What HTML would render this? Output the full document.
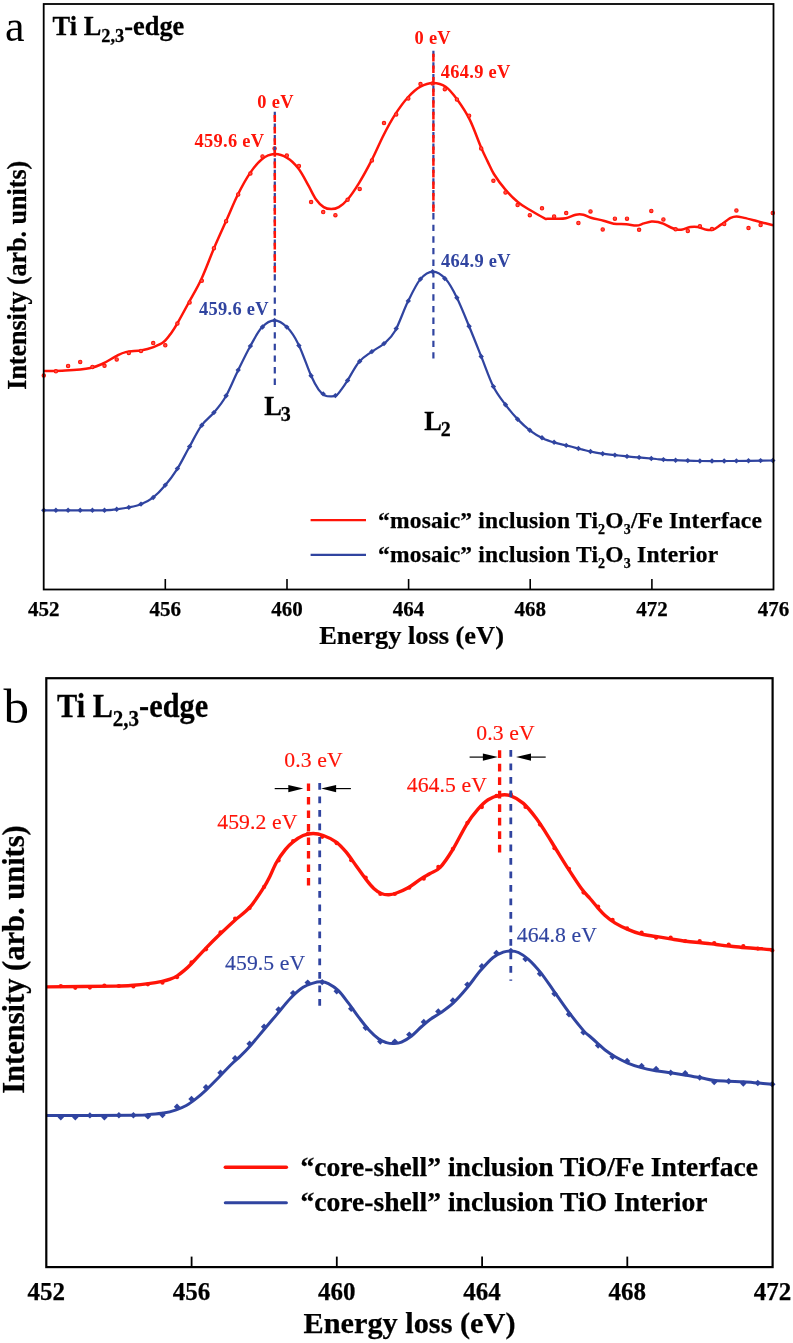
<!DOCTYPE html>
<html lang="en"><head><meta charset="utf-8"><title>Ti L2,3-edge EELS</title>
<style>html,body{margin:0;padding:0;background:#fff}svg{display:block}text{font-family:"Liberation Serif","Times New Roman",serif}.b{font-weight:bold;stroke-width:.25px;stroke:#000}.r{fill:#ff1408;stroke:#ff1408}.u{fill:#3044a0;stroke:#3044a0}.n{stroke-width:.15px}.s{stroke:none;letter-spacing:.3px}</style></head><body>
<svg width="793" height="1343" viewBox="0 0 793 1343">
<rect width="793" height="1343" fill="#fff"/>
<g id="panelA">
<path d="M43.8,371.1C47.4,371.0 57.4,371.1 65.2,370.6C73.0,370.1 84.1,369.2 90.4,368.0C96.7,366.8 98.8,365.4 103.0,363.5C107.2,361.6 111.9,358.3 115.7,356.4C119.5,354.5 121.5,353.1 125.7,352.1C129.9,351.1 136.3,351.2 140.9,350.4C145.5,349.6 149.7,348.5 153.5,347.1C157.3,345.7 160.7,344.4 163.6,342.1C166.5,339.8 168.8,336.4 171.1,333.2C173.4,330.0 174.6,328.2 177.5,323.1C180.4,318.0 184.8,309.9 188.8,302.5C192.8,295.1 197.2,288.1 201.4,279.0C205.6,269.9 209.9,257.9 214.0,248.2C218.1,238.5 222.1,229.9 226.1,221.0C230.1,212.1 233.9,202.5 237.9,194.5C241.9,186.5 246.0,179.0 250.0,173.1C254.0,167.2 257.8,162.4 261.9,159.2C266.0,156.0 270.3,154.3 274.5,154.1C278.7,153.9 283.1,155.5 287.1,157.9C291.1,160.3 294.8,163.9 298.4,168.5C302.0,173.1 305.6,180.5 308.5,185.7C311.4,190.9 313.6,195.9 316.1,199.5C318.6,203.1 321.2,205.5 323.7,207.1C326.2,208.7 328.7,209.1 331.2,209.1C333.7,209.1 336.1,208.7 338.8,207.1C341.5,205.5 344.2,203.5 347.6,199.5C351.0,195.5 355.0,189.6 359.0,183.1C363.0,176.6 367.5,168.3 371.6,160.4C375.7,152.5 379.5,143.2 383.4,135.5C387.3,127.8 391.1,120.7 395.2,114.4C399.3,108.1 403.6,102.1 407.8,97.5C412.0,92.9 416.2,89.1 420.4,86.7C424.6,84.3 428.9,82.9 433.1,82.9C437.3,82.9 441.7,84.0 445.7,86.7C449.7,89.4 453.0,93.8 457.0,99.3C461.0,104.8 465.6,111.4 469.6,119.4C473.6,127.4 478.0,140.2 481.0,147.2C484.0,154.2 485.5,156.9 487.6,161.4C489.8,165.9 491.0,169.3 493.9,174.0C496.8,178.7 501.2,184.7 505.2,189.4C509.2,194.1 513.6,198.5 517.8,202.0C522.0,205.5 525.9,207.6 530.4,210.3C534.9,213.0 541.8,217.0 544.6,218.4C547.4,219.8 545.1,218.6 547.0,218.7C548.9,218.8 552.6,218.8 555.7,218.7C558.8,218.6 562.4,218.9 565.8,218.2C569.1,217.5 572.9,215.3 575.8,214.7C578.7,214.1 580.9,214.2 583.4,214.7C585.9,215.2 587.6,216.7 591.0,217.7C594.4,218.7 599.8,219.7 603.6,220.7C607.4,221.7 609.9,223.1 613.7,223.7C617.5,224.3 622.5,223.9 626.3,224.2C630.1,224.5 633.5,225.7 636.4,225.6C639.3,225.5 641.4,224.1 643.9,223.4C646.4,222.7 649.1,221.7 651.5,221.5C653.9,221.3 656.0,221.6 658.0,222.0C660.0,222.4 661.1,222.8 663.2,223.7C665.4,224.6 668.6,226.5 670.9,227.5C673.1,228.5 674.8,229.2 676.7,229.5C678.6,229.8 680.1,229.9 682.4,229.5C684.6,229.1 687.6,227.4 690.2,227.0C692.8,226.6 695.2,226.5 697.9,227.0C700.6,227.5 704.0,229.4 706.6,229.8C709.2,230.2 710.9,230.4 713.3,229.5C715.7,228.6 718.1,226.5 721.0,224.6C723.9,222.7 728.1,219.2 730.7,217.9C733.3,216.6 734.2,216.5 736.5,216.5C738.8,216.5 741.0,217.2 744.2,217.9C747.4,218.6 752.3,219.9 755.8,220.8C759.3,221.7 762.5,222.6 765.4,223.3C768.3,224.0 771.8,224.9 773.1,225.2" fill="none" stroke="#ff1408" stroke-width="2.5" stroke-linejoin="round"/>
<path d="M43.8,510.3C53.7,510.3 91.0,510.5 103.0,510.3C115.0,510.1 111.5,509.8 115.7,509.3C119.9,508.8 124.1,508.4 128.3,507.5C132.5,506.6 136.8,505.8 140.9,504.2C145.0,502.6 148.7,501.0 152.7,497.9C156.7,494.8 160.8,490.6 164.8,485.8C168.9,481.1 173.0,475.7 177.0,469.4C181.0,463.1 184.7,455.3 188.8,448.0C192.9,440.7 197.2,431.5 201.4,425.6C205.6,419.7 210.0,417.3 214.0,412.5C218.0,407.7 221.6,403.8 225.6,396.8C229.6,389.8 233.8,379.1 237.9,370.7C242.0,362.3 246.0,353.9 250.0,346.7C254.0,339.5 257.8,331.7 261.9,327.3C266.0,322.9 270.3,320.3 274.5,320.3C278.7,320.3 283.1,323.3 287.1,327.3C291.1,331.3 294.4,336.1 298.4,344.2C302.4,352.3 307.7,368.2 311.1,375.8C314.5,383.4 316.3,386.3 318.6,389.6C320.9,392.9 322.8,394.3 324.9,395.4C327.0,396.5 329.3,396.4 331.2,396.4C333.1,396.4 334.6,396.5 336.3,395.4C338.0,394.3 339.4,392.1 341.3,389.6C343.2,387.1 344.7,384.9 347.6,380.3C350.6,375.7 355.0,366.6 359.0,361.9C363.0,357.1 367.4,354.9 371.6,351.8C375.8,348.7 380.3,347.0 384.2,343.5C388.1,340.0 391.3,337.8 395.2,330.8C399.1,323.9 403.6,310.4 407.8,301.8C412.0,293.2 416.2,284.2 420.4,279.1C424.6,274.1 428.9,271.5 433.1,271.5C437.3,271.5 441.7,274.7 445.7,279.1C449.7,283.5 453.0,289.9 457.0,298.0C461.0,306.1 465.5,317.6 469.6,327.5C473.7,337.4 477.8,347.9 481.7,357.7C485.6,367.5 489.4,378.7 493.3,386.5C497.2,394.3 501.1,398.8 505.2,404.3C509.3,409.8 513.6,415.0 517.8,419.4C522.0,423.8 526.2,427.6 530.4,430.8C534.6,434.0 538.9,436.4 543.1,438.4C547.3,440.4 551.5,441.6 555.7,442.9C559.9,444.1 564.1,444.8 568.3,445.9C572.5,446.9 576.7,448.1 580.9,449.2C585.1,450.2 589.3,451.4 593.5,452.2C597.7,453.0 601.9,453.6 606.1,454.2C610.3,454.8 614.5,455.1 618.7,455.5C622.9,455.9 627.1,456.4 631.3,456.8C635.5,457.2 639.7,457.4 643.9,457.8C648.1,458.2 652.3,458.6 656.5,459.0C660.7,459.4 665.3,459.9 669.2,460.1C673.1,460.3 674.9,460.2 680.0,460.3C685.1,460.4 691.7,460.9 700.0,461.0C708.3,461.1 717.8,461.1 730.0,461.0C742.2,460.9 765.8,460.6 773.0,460.5" fill="none" stroke="#3044a0" stroke-width="2.25" stroke-linejoin="round"/>
<g fill="#ff5248" stroke="#ff1408" stroke-width="1.1"><circle cx="43.8" cy="375.6" r="1.7"/><circle cx="55.9" cy="371.3" r="1.7"/><circle cx="68.1" cy="366.0" r="1.7"/><circle cx="80.2" cy="362.0" r="1.7"/><circle cx="92.4" cy="367.0" r="1.7"/><circle cx="104.5" cy="365.8" r="1.7"/><circle cx="116.7" cy="359.5" r="1.7"/><circle cx="128.8" cy="352.9" r="1.7"/><circle cx="141.0" cy="350.9" r="1.7"/><circle cx="153.2" cy="343.1" r="1.7"/><circle cx="165.3" cy="345.3" r="1.7"/><circle cx="177.4" cy="323.6" r="1.7"/><circle cx="189.6" cy="302.5" r="1.7"/><circle cx="201.8" cy="280.8" r="1.7"/><circle cx="213.9" cy="248.2" r="1.7"/><circle cx="226.1" cy="221.2" r="1.7"/><circle cx="238.2" cy="194.5" r="1.7"/><circle cx="250.4" cy="173.6" r="1.7"/><circle cx="262.5" cy="156.4" r="1.7"/><circle cx="274.6" cy="148.6" r="1.7"/><circle cx="286.8" cy="155.6" r="1.7"/><circle cx="298.9" cy="166.0" r="1.7"/><circle cx="311.1" cy="202.1" r="1.7"/><circle cx="323.2" cy="212.1" r="1.7"/><circle cx="335.4" cy="215.2" r="1.7"/><circle cx="347.6" cy="199.8" r="1.7"/><circle cx="359.7" cy="188.9" r="1.7"/><circle cx="371.9" cy="160.4" r="1.7"/><circle cx="384.0" cy="123.1" r="1.7"/><circle cx="396.2" cy="114.4" r="1.7"/><circle cx="408.3" cy="98.5" r="1.7"/><circle cx="420.5" cy="84.1" r="1.7"/><circle cx="432.6" cy="83.4" r="1.7"/><circle cx="444.8" cy="89.2" r="1.7"/><circle cx="456.9" cy="99.5" r="1.7"/><circle cx="469.1" cy="115.7" r="1.7"/><circle cx="481.2" cy="148.4" r="1.7"/><circle cx="493.4" cy="180.8" r="1.7"/><circle cx="505.5" cy="192.5" r="1.7"/><circle cx="517.6" cy="205.1" r="1.7"/><circle cx="529.8" cy="215.2" r="1.7"/><circle cx="542.0" cy="208.3" r="1.7"/><circle cx="554.1" cy="216.4" r="1.7"/><circle cx="566.2" cy="213.1" r="1.7"/><circle cx="578.4" cy="223.0" r="1.7"/><circle cx="590.5" cy="211.4" r="1.7"/><circle cx="602.7" cy="229.5" r="1.7"/><circle cx="614.9" cy="218.7" r="1.7"/><circle cx="627.0" cy="218.7" r="1.7"/><circle cx="639.1" cy="229.8" r="1.7"/><circle cx="651.3" cy="210.9" r="1.7"/><circle cx="663.4" cy="219.4" r="1.7"/><circle cx="675.6" cy="229.3" r="1.7"/><circle cx="687.8" cy="231.0" r="1.7"/><circle cx="699.9" cy="226.2" r="1.7"/><circle cx="712.0" cy="229.1" r="1.7"/><circle cx="724.2" cy="224.1" r="1.7"/><circle cx="736.4" cy="210.6" r="1.7"/><circle cx="748.5" cy="228.1" r="1.7"/><circle cx="760.6" cy="225.0" r="1.7"/><circle cx="772.8" cy="213.1" r="1.7"/></g>
<g fill="#3044a0"><path d="M43.8,507.6l2.7,2.7l-2.7,2.7l-2.7,-2.7z"/><path d="M55.9,507.6l2.7,2.7l-2.7,2.7l-2.7,-2.7z"/><path d="M68.1,507.6l2.7,2.7l-2.7,2.7l-2.7,-2.7z"/><path d="M80.2,507.6l2.7,2.7l-2.7,2.7l-2.7,-2.7z"/><path d="M92.4,507.6l2.7,2.7l-2.7,2.7l-2.7,-2.7z"/><path d="M104.5,507.5l2.7,2.7l-2.7,2.7l-2.7,-2.7z"/><path d="M116.7,506.5l2.7,2.7l-2.7,2.7l-2.7,-2.7z"/><path d="M128.8,504.7l2.7,2.7l-2.7,2.7l-2.7,-2.7z"/><path d="M141.0,501.4l2.7,2.7l-2.7,2.7l-2.7,-2.7z"/><path d="M153.2,494.8l2.7,2.7l-2.7,2.7l-2.7,-2.7z"/><path d="M165.3,482.4l2.7,2.7l-2.7,2.7l-2.7,-2.7z"/><path d="M177.4,465.9l2.7,2.7l-2.7,2.7l-2.7,-2.7z"/><path d="M189.6,443.9l2.7,2.7l-2.7,2.7l-2.7,-2.7z"/><path d="M201.8,422.5l2.7,2.7l-2.7,2.7l-2.7,-2.7z"/><path d="M213.9,409.9l2.7,2.7l-2.7,2.7l-2.7,-2.7z"/><path d="M226.1,393.1l2.7,2.7l-2.7,2.7l-2.7,-2.7z"/><path d="M238.2,367.4l2.7,2.7l-2.7,2.7l-2.7,-2.7z"/><path d="M250.4,343.4l2.7,2.7l-2.7,2.7l-2.7,-2.7z"/><path d="M262.5,324.3l2.7,2.7l-2.7,2.7l-2.7,-2.7z"/><path d="M274.6,317.7l2.7,2.7l-2.7,2.7l-2.7,-2.7z"/><path d="M286.8,324.4l2.7,2.7l-2.7,2.7l-2.7,-2.7z"/><path d="M298.9,342.9l2.7,2.7l-2.7,2.7l-2.7,-2.7z"/><path d="M311.1,373.1l2.7,2.7l-2.7,2.7l-2.7,-2.7z"/><path d="M323.2,391.2l2.7,2.7l-2.7,2.7l-2.7,-2.7z"/><path d="M335.4,392.9l2.7,2.7l-2.7,2.7l-2.7,-2.7z"/><path d="M347.6,377.7l2.7,2.7l-2.7,2.7l-2.7,-2.7z"/><path d="M359.7,358.6l2.7,2.7l-2.7,2.7l-2.7,-2.7z"/><path d="M371.9,348.9l2.7,2.7l-2.7,2.7l-2.7,-2.7z"/><path d="M384.0,340.9l2.7,2.7l-2.7,2.7l-2.7,-2.7z"/><path d="M396.2,325.9l2.7,2.7l-2.7,2.7l-2.7,-2.7z"/><path d="M408.3,298.2l2.7,2.7l-2.7,2.7l-2.7,-2.7z"/><path d="M420.5,276.4l2.7,2.7l-2.7,2.7l-2.7,-2.7z"/><path d="M432.6,269.1l2.7,2.7l-2.7,2.7l-2.7,-2.7z"/><path d="M444.8,275.8l2.7,2.7l-2.7,2.7l-2.7,-2.7z"/><path d="M456.9,295.1l2.7,2.7l-2.7,2.7l-2.7,-2.7z"/><path d="M469.1,323.5l2.7,2.7l-2.7,2.7l-2.7,-2.7z"/><path d="M481.2,353.8l2.7,2.7l-2.7,2.7l-2.7,-2.7z"/><path d="M493.4,383.9l2.7,2.7l-2.7,2.7l-2.7,-2.7z"/><path d="M505.5,402.0l2.7,2.7l-2.7,2.7l-2.7,-2.7z"/><path d="M517.6,416.5l2.7,2.7l-2.7,2.7l-2.7,-2.7z"/><path d="M529.8,427.6l2.7,2.7l-2.7,2.7l-2.7,-2.7z"/><path d="M542.0,435.0l2.7,2.7l-2.7,2.7l-2.7,-2.7z"/><path d="M554.1,439.6l2.7,2.7l-2.7,2.7l-2.7,-2.7z"/><path d="M566.2,442.7l2.7,2.7l-2.7,2.7l-2.7,-2.7z"/><path d="M578.4,445.8l2.7,2.7l-2.7,2.7l-2.7,-2.7z"/><path d="M590.5,448.8l2.7,2.7l-2.7,2.7l-2.7,-2.7z"/><path d="M602.7,451.0l2.7,2.7l-2.7,2.7l-2.7,-2.7z"/><path d="M614.9,452.4l2.7,2.7l-2.7,2.7l-2.7,-2.7z"/><path d="M627.0,453.7l2.7,2.7l-2.7,2.7l-2.7,-2.7z"/><path d="M639.1,454.7l2.7,2.7l-2.7,2.7l-2.7,-2.7z"/><path d="M651.3,455.8l2.7,2.7l-2.7,2.7l-2.7,-2.7z"/><path d="M663.4,456.9l2.7,2.7l-2.7,2.7l-2.7,-2.7z"/><path d="M675.6,457.5l2.7,2.7l-2.7,2.7l-2.7,-2.7z"/><path d="M687.8,457.9l2.7,2.7l-2.7,2.7l-2.7,-2.7z"/><path d="M699.9,458.3l2.7,2.7l-2.7,2.7l-2.7,-2.7z"/><path d="M712.0,458.3l2.7,2.7l-2.7,2.7l-2.7,-2.7z"/><path d="M724.2,458.3l2.7,2.7l-2.7,2.7l-2.7,-2.7z"/><path d="M736.4,458.2l2.7,2.7l-2.7,2.7l-2.7,-2.7z"/><path d="M748.5,458.1l2.7,2.7l-2.7,2.7l-2.7,-2.7z"/><path d="M760.6,457.9l2.7,2.7l-2.7,2.7l-2.7,-2.7z"/><path d="M772.8,457.8l2.7,2.7l-2.7,2.7l-2.7,-2.7z"/></g>
<line x1="274.8" y1="111.8" x2="274.8" y2="385" stroke="#3044a0" stroke-width="2.2" stroke-dasharray="6.4 5.2"/>
<line x1="274.8" y1="115.1" x2="274.8" y2="272.6" stroke="#ff1408" stroke-width="2.5" stroke-dasharray="6.8 4.8"/>
<line x1="433.4" y1="50.7" x2="433.4" y2="358.5" stroke="#3044a0" stroke-width="2.2" stroke-dasharray="6.4 5.2"/>
<line x1="433.4" y1="53.8" x2="433.4" y2="211.7" stroke="#ff1408" stroke-width="2.5" stroke-dasharray="7.6 4"/>
<rect x="43.7" y="4.0" width="729.8" height="585.5" fill="none" stroke="#000" stroke-width="1.8"/>
<line x1="165.3" y1="589.5" x2="165.3" y2="579" stroke="#000" stroke-width="1.6"/>
<line x1="287.0" y1="589.5" x2="287.0" y2="579" stroke="#000" stroke-width="1.6"/>
<line x1="408.6" y1="589.5" x2="408.6" y2="579" stroke="#000" stroke-width="1.6"/>
<line x1="530.2" y1="589.5" x2="530.2" y2="579" stroke="#000" stroke-width="1.6"/>
<line x1="651.9" y1="589.5" x2="651.9" y2="579" stroke="#000" stroke-width="1.6"/>
<text class="b" x="43.7" y="616" font-size="21" text-anchor="middle">452</text>
<text class="b" x="165.3" y="616" font-size="21" text-anchor="middle">456</text>
<text class="b" x="287.0" y="616" font-size="21" text-anchor="middle">460</text>
<text class="b" x="408.6" y="616" font-size="21" text-anchor="middle">464</text>
<text class="b" x="530.2" y="616" font-size="21" text-anchor="middle">468</text>
<text class="b" x="651.9" y="616" font-size="21" text-anchor="middle">472</text>
<text class="b" x="773.5" y="616" font-size="21" text-anchor="middle">476</text>
<text class="b" transform="translate(411.6,644.2) scale(1,0.96)" font-size="26.4" text-anchor="middle">Energy loss (eV)</text>
<text class="b" transform="translate(26.3,275.3) rotate(-90) scale(1,1.04)" font-size="26" text-anchor="middle">Intensity (arb. units)</text>
<text x="5" y="41.3" font-size="44">a</text>
<text class="b" transform="translate(52.6,34.7) scale(1,1.07)" font-size="26.4">Ti L<tspan font-size="18.4" dy="7.2">2,3</tspan><tspan dy="-7.2">-edge</tspan></text>
<g font-size="18.4"><text class="b r s" x="257.3" y="107.7">0 eV</text><text class="b r s" x="194.6" y="147">459.6 eV</text><text class="b r s" x="414.5" y="43.5">0 eV</text><text class="b r s" x="440.8" y="77.8">464.9 eV</text><text class="b u s" x="199" y="314.8">459.6 eV</text><text class="b u s" x="441" y="266.5">464.9 eV</text></g>
<text class="b" transform="translate(264.2,414.6) scale(1,1.05)" font-size="26.5">L<tspan font-size="20" dx="-1" dy="6.2">3</tspan></text>
<text class="b" transform="translate(424.2,429.7) scale(1,1.05)" font-size="26.5">L<tspan font-size="20" dx="-1" dy="6.4">2</tspan></text>
<line x1="310.6" y1="520.2" x2="366" y2="520.2" stroke="#ff1408" stroke-width="2.2"/>
<line x1="310.6" y1="554.8" x2="366" y2="554.8" stroke="#3044a0" stroke-width="2.2"/>
<text class="b" x="378" y="527.8" font-size="23.5" letter-spacing=".2">“mosaic” inclusion Ti<tspan font-size="14" dy="6.5">2</tspan><tspan dy="-6.5">O</tspan><tspan font-size="14" dy="6.5">3</tspan><tspan dy="-6.5">/Fe Interface</tspan></text>
<text class="b" x="378" y="561.8" font-size="23.5" letter-spacing=".2">“mosaic” inclusion Ti<tspan font-size="14" dy="6.5">2</tspan><tspan dy="-6.5">O</tspan><tspan font-size="14" dy="6.5">3</tspan><tspan dy="-6.5"> Interior</tspan></text>
</g>
<g id="panelB">
<path d="M46.3,986.9C57.9,986.8 101.2,986.4 115.7,986.1C130.2,985.8 127.9,985.7 133.3,985.3C138.8,984.9 143.6,984.3 148.4,983.6C153.2,982.9 158.5,982.0 162.1,981.3C165.7,980.6 167.7,980.1 170.2,979.2C172.7,978.3 174.8,977.4 177.2,975.9C179.5,974.4 181.9,972.4 184.3,970.4C186.7,968.4 187.9,967.3 191.4,963.7C194.9,960.1 200.8,953.5 205.5,948.6C210.2,943.7 214.7,939.2 219.6,934.5C224.5,929.8 229.6,924.9 234.7,920.4C239.8,915.9 245.0,912.8 249.9,907.2C254.8,901.7 260.6,892.3 264.0,887.1C267.4,881.9 268.0,880.2 270.1,876.0C272.2,871.8 274.1,866.4 276.7,862.0C279.3,857.6 282.8,852.8 285.5,849.4C288.2,846.0 290.2,844.1 293.1,841.8C296.0,839.5 299.8,836.9 303.1,835.5C306.5,834.1 309.8,833.5 313.2,833.5C316.6,833.5 319.5,834.1 323.3,835.5C327.1,836.9 332.1,839.1 335.9,841.8C339.7,844.5 342.6,847.9 346.0,851.9C349.4,855.9 352.7,861.1 356.1,865.7C359.5,870.3 363.2,875.8 366.2,879.6C369.1,883.4 371.3,886.1 373.8,888.4C376.3,890.7 378.8,892.4 381.3,893.5C383.8,894.6 386.4,894.9 388.9,894.8C391.4,894.7 393.1,894.3 396.5,893.0C399.9,891.7 404.9,889.6 409.1,887.2C413.3,884.8 418.2,880.7 421.7,878.4C425.2,876.1 427.0,875.4 430.1,873.5C433.2,871.6 436.4,871.3 440.2,867.3C444.0,863.3 448.4,856.7 452.8,849.5C457.2,842.3 462.5,831.0 466.7,824.3C470.9,817.6 474.4,813.3 478.0,809.2C481.6,805.1 484.5,802.1 488.1,799.8C491.7,797.5 495.6,796.0 499.4,795.3C503.2,794.6 506.8,794.4 510.8,795.8C514.8,797.1 519.2,799.7 523.4,803.4C527.6,807.1 532.2,813.0 536.0,818.0C539.8,823.0 542.7,827.9 546.1,833.1C549.5,838.4 552.4,843.4 556.2,849.5C560.0,855.6 564.6,863.2 568.8,869.7C573.0,876.2 577.9,883.8 581.4,888.6C584.9,893.4 587.3,895.4 590.0,898.5C592.7,901.6 595.1,904.7 597.6,907.5C600.1,910.3 602.2,912.9 605.1,915.5C608.0,918.1 611.4,920.8 615.2,923.1C619.0,925.4 623.6,927.6 627.8,929.4C632.0,931.2 635.8,932.7 640.4,933.9C645.0,935.1 650.5,935.6 655.6,936.4C660.7,937.2 665.7,938.1 670.7,938.9C675.7,939.7 680.8,940.6 685.8,941.2C690.8,941.8 696.0,942.2 701.0,942.7C706.0,943.2 711.1,943.9 716.1,944.5C721.1,945.1 726.2,945.8 731.2,946.3C736.2,946.8 741.4,947.4 746.4,947.8C751.4,948.2 757.2,948.5 761.5,948.8C765.8,949.1 770.3,949.6 772.1,949.8" fill="none" stroke="#ff1408" stroke-width="3.4" stroke-linejoin="round"/>
<path d="M46.3,1115.6C60.8,1115.5 116.3,1115.5 133.3,1115.3C150.3,1115.1 143.4,1115.0 148.4,1114.6C153.4,1114.2 159.0,1113.9 163.6,1113.1C168.2,1112.3 172.4,1111.1 176.2,1109.8C180.0,1108.5 182.9,1107.4 186.3,1105.5C189.7,1103.6 193.0,1101.1 196.4,1098.4C199.8,1095.8 202.7,1093.2 206.5,1089.6C210.3,1086.0 214.9,1081.3 219.1,1077.0C223.3,1072.7 228.2,1067.4 231.7,1064.0C235.2,1060.6 237.0,1059.4 240.1,1056.4C243.2,1053.4 246.4,1050.2 250.2,1046.0C254.0,1041.8 258.4,1036.2 262.8,1031.0C267.2,1025.8 272.1,1020.1 276.7,1014.6C281.3,1009.1 286.1,1002.8 290.5,998.2C294.9,993.7 299.3,989.8 303.1,987.3C306.9,984.8 310.2,984.0 313.2,983.1C316.1,982.2 318.3,981.7 320.8,981.8C323.3,981.9 325.5,982.1 328.4,983.6C331.3,985.1 335.0,987.3 338.4,990.6C341.8,993.9 345.1,998.8 348.5,1003.2C351.9,1007.6 355.2,1012.7 358.6,1017.1C362.0,1021.5 365.3,1026.0 368.7,1029.7C372.1,1033.4 375.9,1036.8 378.8,1039.0C381.8,1041.2 383.9,1041.8 386.4,1042.6C388.9,1043.4 391.4,1043.7 393.9,1043.6C396.4,1043.5 398.6,1043.4 401.5,1042.1C404.4,1040.8 408.2,1038.6 411.6,1036.0C415.0,1033.4 418.6,1029.2 421.7,1026.5C424.8,1023.8 427.0,1021.8 430.1,1019.5C433.2,1017.2 436.4,1015.7 440.2,1013.0C444.0,1010.3 448.4,1007.5 452.8,1003.4C457.2,999.3 462.1,993.8 466.7,988.3C471.3,982.8 476.1,975.7 480.5,970.6C484.9,965.5 489.3,960.6 493.1,957.5C496.9,954.4 500.2,953.3 503.2,952.2C506.1,951.1 508.3,950.9 510.8,950.9C513.3,950.9 515.5,951.1 518.4,952.5C521.3,953.9 524.6,955.9 528.4,959.3C532.2,962.7 536.9,967.9 541.1,973.1C545.3,978.4 549.1,984.3 553.7,990.8C558.3,997.3 563.8,1005.5 568.8,1012.2C573.8,1018.9 580.4,1027.0 583.9,1031.1C587.4,1035.1 587.7,1034.5 590.0,1036.5C592.3,1038.5 595.1,1041.0 597.6,1043.3C600.1,1045.5 602.2,1047.8 605.1,1050.0C608.0,1052.2 611.4,1054.6 615.2,1056.8C619.0,1059.0 623.6,1061.3 627.8,1063.1C632.0,1064.9 635.8,1066.1 640.4,1067.4C645.0,1068.7 650.5,1069.8 655.6,1070.7C660.7,1071.6 665.7,1072.0 670.7,1072.7C675.7,1073.5 680.8,1074.4 685.8,1075.2C690.8,1076.0 696.4,1077.0 701.0,1077.8C705.6,1078.6 709.0,1079.7 713.6,1080.3C718.2,1080.9 723.7,1081.0 728.7,1081.3C733.7,1081.5 738.8,1081.5 743.8,1081.8C748.8,1082.1 754.3,1082.7 759.0,1083.1C763.7,1083.5 769.9,1084.1 772.1,1084.3" fill="none" stroke="#3044a0" stroke-width="3" stroke-linejoin="round"/>
<g fill="#ff1408"><circle cx="60.8" cy="986.1" r="2.1"/><circle cx="75.3" cy="987.8" r="2.1"/><circle cx="89.9" cy="987.6" r="2.1"/><circle cx="104.4" cy="985.6" r="2.1"/><circle cx="118.9" cy="986.0" r="2.1"/><circle cx="133.4" cy="986.5" r="2.1"/><circle cx="147.9" cy="984.3" r="2.1"/><circle cx="162.5" cy="982.7" r="2.1"/><circle cx="177.0" cy="977.2" r="2.1"/><circle cx="191.5" cy="962.4" r="2.1"/><circle cx="206.0" cy="949.3" r="2.1"/><circle cx="220.5" cy="932.4" r="2.1"/><circle cx="235.1" cy="918.6" r="2.1"/><circle cx="249.6" cy="908.1" r="2.1"/><circle cx="264.1" cy="886.9" r="2.1"/><circle cx="278.6" cy="860.5" r="2.1"/><circle cx="293.1" cy="841.2" r="2.1"/><circle cx="307.7" cy="834.0" r="2.1"/><circle cx="322.2" cy="836.8" r="2.1"/><circle cx="336.7" cy="843.2" r="2.1"/><circle cx="351.2" cy="860.2" r="2.1"/><circle cx="365.7" cy="877.5" r="2.1"/><circle cx="380.3" cy="894.0" r="2.1"/><circle cx="394.8" cy="894.0" r="2.1"/><circle cx="409.3" cy="887.7" r="2.1"/><circle cx="423.8" cy="878.7" r="2.1"/><circle cx="438.3" cy="866.9" r="2.1"/><circle cx="452.9" cy="848.8" r="2.1"/><circle cx="467.4" cy="822.8" r="2.1"/><circle cx="481.9" cy="807.1" r="2.1"/><circle cx="496.4" cy="795.9" r="2.1"/><circle cx="510.9" cy="794.4" r="2.1"/><circle cx="525.5" cy="807.0" r="2.1"/><circle cx="540.0" cy="824.6" r="2.1"/><circle cx="554.5" cy="848.2" r="2.1"/><circle cx="569.0" cy="868.8" r="2.1"/><circle cx="583.5" cy="892.6" r="2.1"/><circle cx="598.1" cy="906.5" r="2.1"/><circle cx="612.6" cy="919.9" r="2.1"/><circle cx="627.1" cy="928.4" r="2.1"/><circle cx="641.6" cy="932.6" r="2.1"/><circle cx="656.1" cy="937.7" r="2.1"/><circle cx="670.7" cy="937.7" r="2.1"/><circle cx="685.2" cy="941.1" r="2.1"/><circle cx="699.7" cy="941.1" r="2.1"/><circle cx="714.2" cy="943.1" r="2.1"/><circle cx="728.7" cy="944.5" r="2.1"/><circle cx="743.3" cy="946.0" r="2.1"/><circle cx="757.8" cy="948.6" r="2.1"/><circle cx="772.3" cy="950.4" r="2.1"/></g>
<g fill="#3044a0"><path d="M60.8,1114.1l3.2,3.2l-3.2,3.2l-3.2,-3.2z"/><path d="M75.3,1114.1l3.2,3.2l-3.2,3.2l-3.2,-3.2z"/><path d="M89.9,1112.2l3.2,3.2l-3.2,3.2l-3.2,-3.2z"/><path d="M104.4,1114.0l3.2,3.2l-3.2,3.2l-3.2,-3.2z"/><path d="M118.9,1112.1l3.2,3.2l-3.2,3.2l-3.2,-3.2z"/><path d="M133.4,1112.1l3.2,3.2l-3.2,3.2l-3.2,-3.2z"/><path d="M147.9,1113.2l3.2,3.2l-3.2,3.2l-3.2,-3.2z"/><path d="M162.5,1111.8l3.2,3.2l-3.2,3.2l-3.2,-3.2z"/><path d="M177.0,1103.5l3.2,3.2l-3.2,3.2l-3.2,-3.2z"/><path d="M191.5,1095.8l3.2,3.2l-3.2,3.2l-3.2,-3.2z"/><path d="M206.0,1084.0l3.2,3.2l-3.2,3.2l-3.2,-3.2z"/><path d="M220.5,1069.5l3.2,3.2l-3.2,3.2l-3.2,-3.2z"/><path d="M235.1,1055.0l3.2,3.2l-3.2,3.2l-3.2,-3.2z"/><path d="M249.6,1040.6l3.2,3.2l-3.2,3.2l-3.2,-3.2z"/><path d="M264.1,1023.5l3.2,3.2l-3.2,3.2l-3.2,-3.2z"/><path d="M278.6,1006.3l3.2,3.2l-3.2,3.2l-3.2,-3.2z"/><path d="M293.1,989.9l3.2,3.2l-3.2,3.2l-3.2,-3.2z"/><path d="M307.7,979.4l3.2,3.2l-3.2,3.2l-3.2,-3.2z"/><path d="M322.2,978.9l3.2,3.2l-3.2,3.2l-3.2,-3.2z"/><path d="M336.7,988.0l3.2,3.2l-3.2,3.2l-3.2,-3.2z"/><path d="M351.2,1005.5l3.2,3.2l-3.2,3.2l-3.2,-3.2z"/><path d="M365.7,1024.6l3.2,3.2l-3.2,3.2l-3.2,-3.2z"/><path d="M380.3,1038.3l3.2,3.2l-3.2,3.2l-3.2,-3.2z"/><path d="M394.8,1038.4l3.2,3.2l-3.2,3.2l-3.2,-3.2z"/><path d="M409.3,1031.4l3.2,3.2l-3.2,3.2l-3.2,-3.2z"/><path d="M423.8,1018.7l3.2,3.2l-3.2,3.2l-3.2,-3.2z"/><path d="M438.3,1008.2l3.2,3.2l-3.2,3.2l-3.2,-3.2z"/><path d="M452.9,997.3l3.2,3.2l-3.2,3.2l-3.2,-3.2z"/><path d="M467.4,981.4l3.2,3.2l-3.2,3.2l-3.2,-3.2z"/><path d="M481.9,963.1l3.2,3.2l-3.2,3.2l-3.2,-3.2z"/><path d="M496.4,949.8l3.2,3.2l-3.2,3.2l-3.2,-3.2z"/><path d="M510.9,947.7l3.2,3.2l-3.2,3.2l-3.2,-3.2z"/><path d="M525.5,955.9l3.2,3.2l-3.2,3.2l-3.2,-3.2z"/><path d="M540.0,970.5l3.2,3.2l-3.2,3.2l-3.2,-3.2z"/><path d="M554.5,990.5l3.2,3.2l-3.2,3.2l-3.2,-3.2z"/><path d="M569.0,1011.1l3.2,3.2l-3.2,3.2l-3.2,-3.2z"/><path d="M583.5,1029.2l3.2,3.2l-3.2,3.2l-3.2,-3.2z"/><path d="M598.1,1042.3l3.2,3.2l-3.2,3.2l-3.2,-3.2z"/><path d="M612.6,1053.6l3.2,3.2l-3.2,3.2l-3.2,-3.2z"/><path d="M627.1,1057.8l3.2,3.2l-3.2,3.2l-3.2,-3.2z"/><path d="M641.6,1062.7l3.2,3.2l-3.2,3.2l-3.2,-3.2z"/><path d="M656.1,1065.8l3.2,3.2l-3.2,3.2l-3.2,-3.2z"/><path d="M670.7,1069.5l3.2,3.2l-3.2,3.2l-3.2,-3.2z"/><path d="M685.2,1070.1l3.2,3.2l-3.2,3.2l-3.2,-3.2z"/><path d="M699.7,1074.4l3.2,3.2l-3.2,3.2l-3.2,-3.2z"/><path d="M714.2,1078.9l3.2,3.2l-3.2,3.2l-3.2,-3.2z"/><path d="M728.7,1078.1l3.2,3.2l-3.2,3.2l-3.2,-3.2z"/><path d="M743.3,1080.4l3.2,3.2l-3.2,3.2l-3.2,-3.2z"/><path d="M757.8,1079.8l3.2,3.2l-3.2,3.2l-3.2,-3.2z"/><path d="M772.3,1081.1l3.2,3.2l-3.2,3.2l-3.2,-3.2z"/></g>
<line x1="308.5" y1="783.5" x2="308.5" y2="885.7" stroke="#ff1408" stroke-width="3.3" stroke-dasharray="7.6 5.9"/>
<line x1="319.7" y1="783" x2="319.7" y2="1007" stroke="#3044a0" stroke-width="2.8" stroke-dasharray="6.8 6.7"/>
<line x1="499.6" y1="750.3" x2="499.6" y2="853.3" stroke="#ff1408" stroke-width="3.3" stroke-dasharray="7.6 5.9"/>
<line x1="510.8" y1="750" x2="510.8" y2="980.7" stroke="#3044a0" stroke-width="2.8" stroke-dasharray="6.8 6.7"/>
<line x1="274.7" y1="788.6" x2="290.3" y2="788.6" stroke="#000" stroke-width="1.2"/><path d="M303.3,788.6L288.3,785.0L288.3,792.2z" fill="#000"/>
<line x1="350.9" y1="788.6" x2="334.1" y2="788.6" stroke="#000" stroke-width="1.2"/><path d="M321.1,788.6L336.1,785.0L336.1,792.2z" fill="#000"/>
<line x1="469.6" y1="757.1" x2="484.9" y2="757.1" stroke="#000" stroke-width="1.2"/><path d="M497.9,757.1L482.9,753.5L482.9,760.7z" fill="#000"/>
<line x1="545.7" y1="757.1" x2="529" y2="757.1" stroke="#000" stroke-width="1.2"/><path d="M516,757.1L531,753.5L531,760.7z" fill="#000"/>
<rect x="46.3" y="678.2" width="726.3000000000001" height="588.8999999999999" fill="none" stroke="#000" stroke-width="2.2"/>
<line x1="191.6" y1="1267.1" x2="191.6" y2="1256.6" stroke="#000" stroke-width="1.8"/>
<line x1="336.8" y1="1267.1" x2="336.8" y2="1256.6" stroke="#000" stroke-width="1.8"/>
<line x1="482.1" y1="1267.1" x2="482.1" y2="1256.6" stroke="#000" stroke-width="1.8"/>
<line x1="627.3" y1="1267.1" x2="627.3" y2="1256.6" stroke="#000" stroke-width="1.8"/>
<text class="b" x="46.3" y="1300" font-size="25" text-anchor="middle">452</text>
<text class="b" x="191.6" y="1300" font-size="25" text-anchor="middle">456</text>
<text class="b" x="336.8" y="1300" font-size="25" text-anchor="middle">460</text>
<text class="b" x="482.1" y="1300" font-size="25" text-anchor="middle">464</text>
<text class="b" x="627.3" y="1300" font-size="25" text-anchor="middle">468</text>
<text class="b" x="772.6" y="1300" font-size="25" text-anchor="middle">472</text>
<text class="b" x="409.5" y="1333" font-size="30.3" text-anchor="middle">Energy loss (eV)</text>
<text class="b" transform="translate(24,959.5) rotate(-90) scale(1,1.05)" font-size="30.5" text-anchor="middle">Intensity (arb. units)</text>
<text transform="translate(3.4,722.6) scale(1,0.96)" font-size="51">b</text>
<text class="b" transform="translate(57,716.8) scale(1,1.09)" font-size="30.3">Ti L<tspan font-size="21" dy="8.1">2,3</tspan><tspan dy="-8.1">-edge</tspan></text>
<g font-size="21.7" letter-spacing=".1"><text class="r n" x="284.3" y="766.6">0.3 eV</text><text class="r n" x="217.2" y="829.3">459.2 eV</text><text class="r n" x="476.3" y="739.6">0.3 eV</text><text class="r n" x="406.7" y="791.6">464.5 eV</text><text class="u n" x="225" y="969.9">459.5 eV</text><text class="u n" x="516.7" y="942.4">464.8 eV</text></g>
<line x1="225.3" y1="1167.3" x2="286.4" y2="1167.3" stroke="#ff1408" stroke-width="3.4" stroke-linecap="round"/>
<line x1="225.3" y1="1202.8" x2="286.4" y2="1202.8" stroke="#3044a0" stroke-width="3" stroke-linecap="round"/>
<text class="b" x="300.5" y="1176.2" font-size="27.6">“core-shell” inclusion TiO/Fe Interface</text>
<text class="b" x="300.5" y="1211" font-size="27.6">“core-shell” inclusion TiO Interior</text>
</g>
</svg></body></html>
